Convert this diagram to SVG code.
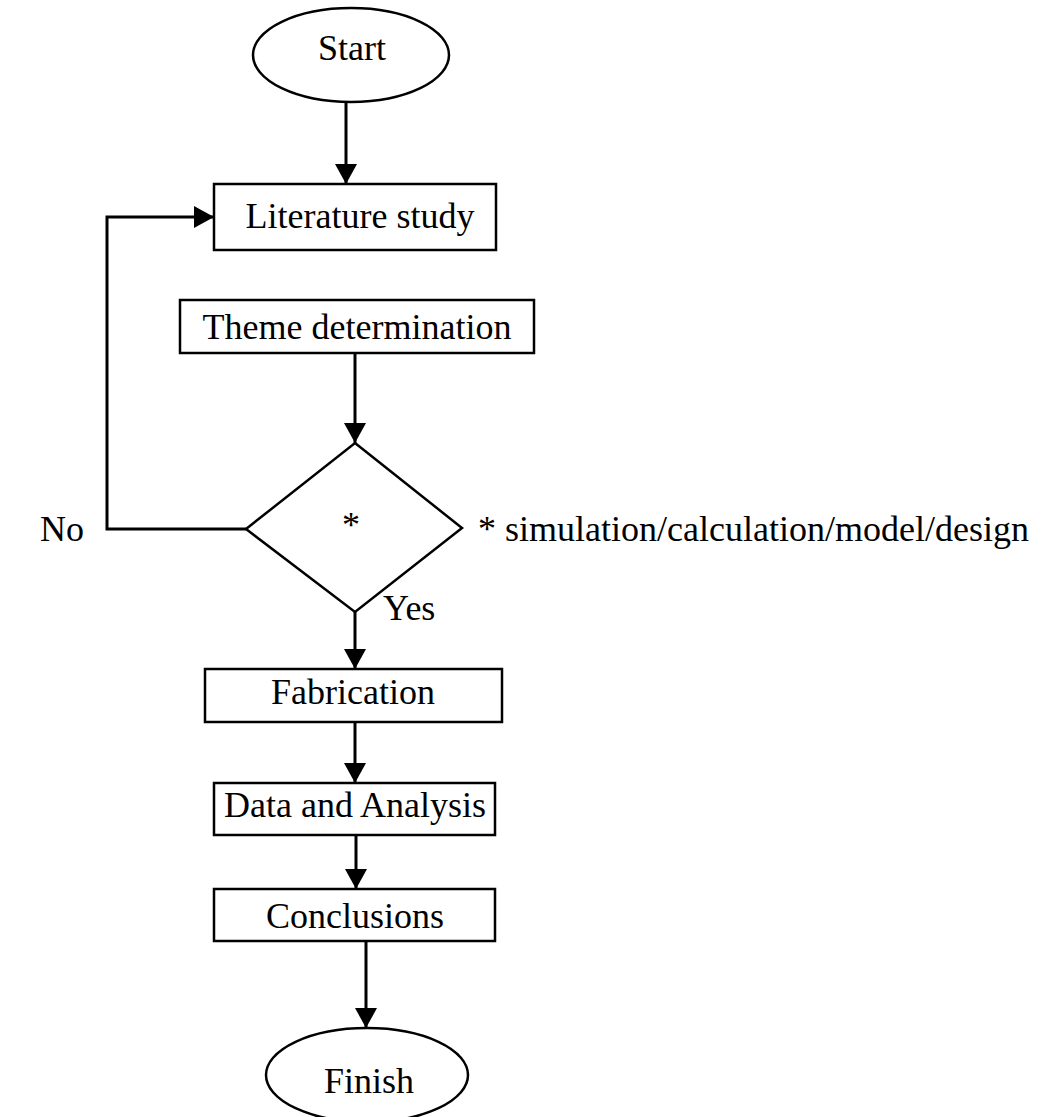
<svg xmlns="http://www.w3.org/2000/svg" width="1042" height="1117" viewBox="0 0 1042 1117">
<style>
  .shape { fill: #ffffff; stroke: #000000; stroke-width: 2.5; }
  .conn { fill: none; stroke: #000000; stroke-width: 3; }
  .lbl { font-family: "Liberation Serif", "Times New Roman", serif; font-size: 36px; fill: #000000; }
  .mid { text-anchor: middle; }
</style>
<defs>
  <marker id="arrow" markerUnits="userSpaceOnUse" markerWidth="20" markerHeight="22" refX="20" refY="11" orient="auto">
    <path d="M0,0 L20,11 L0,22 Z" fill="#000000"/>
  </marker>
</defs>
<rect width="1042" height="1117" fill="#ffffff"/>
<g id="connectors">
  <path class="conn" d="M346,102 L346,184" marker-end="url(#arrow)"/>
  <path class="conn" d="M355,353 L355,443" marker-end="url(#arrow)"/>
  <path class="conn" d="M355,612 L355,669" marker-end="url(#arrow)"/>
  <path class="conn" d="M355,722 L355,783" marker-end="url(#arrow)"/>
  <path class="conn" d="M356,835 L356,889" marker-end="url(#arrow)"/>
  <path class="conn" d="M366,941 L366,1028" marker-end="url(#arrow)"/>
  <path class="conn" d="M246,529 L107,529 L107,217 L214,217" marker-end="url(#arrow)"/>
</g>
<g id="start">
  <ellipse class="shape" cx="351" cy="55" rx="98" ry="47"/>
  <text class="lbl mid" x="352" y="60">Start</text>
</g>
<g id="literature">
  <rect class="shape" x="214" y="184" width="282" height="66"/>
  <text class="lbl mid" x="360" y="228">Literature study</text>
</g>
<g id="theme">
  <rect class="shape" x="180" y="300" width="354" height="53"/>
  <text class="lbl mid" x="357" y="339">Theme determination</text>
</g>
<g id="decision">
  <polygon class="shape" points="355,443 462,528 355,612 246,529"/>
  <text class="lbl mid" x="351" y="537">*</text>
</g>
<g id="fabrication">
  <rect class="shape" x="205" y="669" width="297" height="53"/>
  <text class="lbl mid" x="353" y="704">Fabrication</text>
</g>
<g id="data">
  <rect class="shape" x="214" y="783" width="281" height="52"/>
  <text class="lbl mid" x="355" y="817">Data and Analysis</text>
</g>
<g id="conclusions">
  <rect class="shape" x="214" y="889" width="281" height="52"/>
  <text class="lbl mid" x="355" y="928">Conclusions</text>
</g>
<g id="finish">
  <ellipse class="shape" cx="367" cy="1075" rx="101" ry="47"/>
  <text class="lbl mid" x="369" y="1093">Finish</text>
</g>
<g id="labels">
  <text class="lbl" x="40" y="541">No</text>
  <text class="lbl" x="478" y="541">* simulation/calculation/model/design</text>
  <text class="lbl" x="383" y="620">Yes</text>
</g>
</svg>
